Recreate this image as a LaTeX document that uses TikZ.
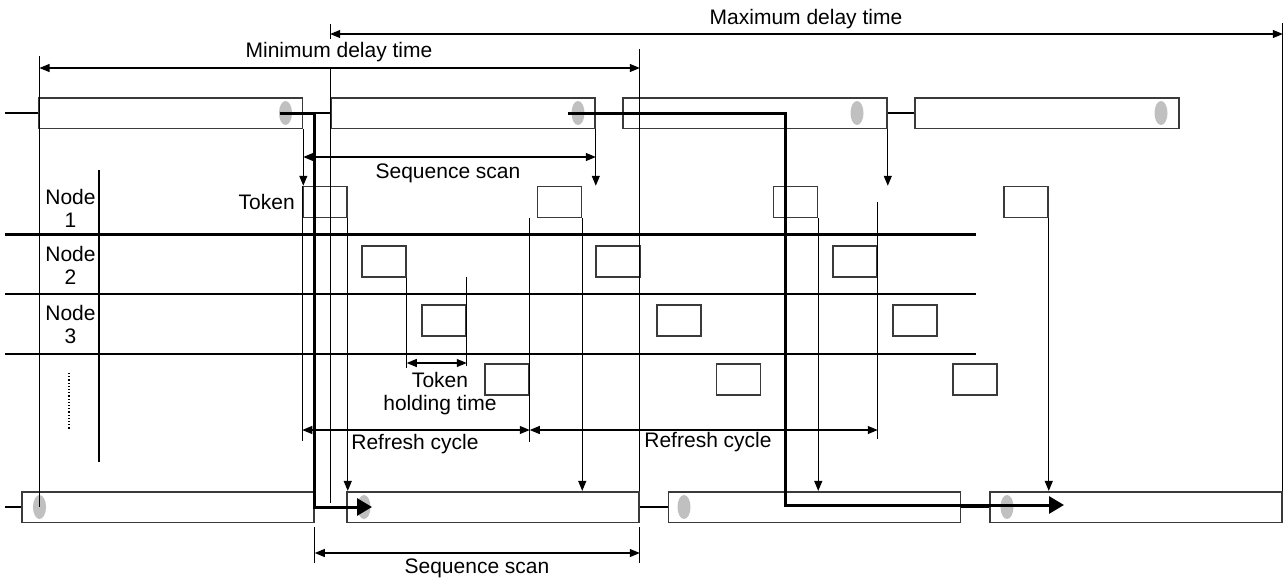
\documentclass[tikz,border=0pt]{standalone}
\usepackage{fontspec}
\setmainfont{Liberation Sans}
\usepackage{tikz}
\usetikzlibrary{arrows.meta,shapes.geometric}
\definecolor{busGris}{HTML}{3A3A3A}
\definecolor{ovaloGris}{HTML}{C0C0C0}

\begin{document}
\begin{tikzpicture}[x=0.5pt, y=-0.5pt, line width=0.55pt,
        bar/.style={draw=busGris, line width=0.8pt, fill=white, minimum height=15.3pt, inner sep=0pt},
        topbar/.style={bar, minimum width=132pt},
        botbar/.style={bar, minimum width=146pt},
        oval/.style={ellipse, fill=ovaloGris, minimum width=6.5pt, minimum height=12pt, inner sep=0pt},
        tok/.style={draw=busGris, line width=0.75pt, minimum width=22pt, minimum height=15.5pt, inner sep=0pt},
        lbl/.style={font=\fontsize{10.5}{11.5}\selectfont, inner sep=1pt, align=center},
        link/.style={line width=1.2pt},
        row/.style={line width=1.2pt},
        flow/.style={line width=1.5pt, -{Triangle[length=7.5pt,width=8.5pt]}},
        arr/.style={-{Triangle[length=5pt,width=4pt]}},
        dim/.style={{Triangle[length=5pt,width=4pt]}-{Triangle[length=5pt,width=4pt]}}
    ]
    \useasboundingbox (0,0) rectangle (1284,579);

    % Bus superior
    \node[topbar] (tb1) at (170.5,113) {};
    \node[topbar] (tb2) at (463,113) {};
    \node[topbar] (tb3) at (755,113) {};
    \node[topbar] (tb4) at (1047,113) {};

    % Bus inferior
    \node[botbar] (bb1) at (168,507) {};
    \node[botbar] (bb2) at (493,507) {};
    \node[botbar] (bb3) at (814.5,507) {};
    \node[botbar] (bb4) at (1136,507) {};

    % Marcas grises
    \node[oval] (e1) at (285.5,113) {};
    \node[oval] (e2) at (578,113) {};
    \node[oval] (e3) at (857,113) {};
    \node[oval] (e4) at (1161,113) {};
    \node[oval] (eb1) at (39.5,507) {};
    \node[oval] (eb2) at (364,507) {};
    \node[oval] (eb3) at (684,507) {};
    \node[oval] (eb4) at (1007,507) {};

    % Tokens por nodo
    \node[tok] (tok11) at (325,202) {};
    \node[tok] (tok12) at (559.5,202) {};
    \node[tok] (tok13) at (795.5,202) {};
    \node[tok] (tok14) at (1026,202) {};
    \node[tok] (tok21) at (384,261.5) {};
    \node[tok] (tok22) at (618,261.5) {};
    \node[tok] (tok23) at (855,261.5) {};
    \node[tok] (tok31) at (444,320.5) {};
    \node[tok] (tok32) at (679,320.5) {};
    \node[tok] (tok33) at (915,320.5) {};
    \node[tok] (tok41) at (507,379.5) {};
    \node[tok] (tok42) at (738.5,379.5) {};
    \node[tok] (tok43) at (975,379.5) {};

    % Etiquetas
    \node[lbl] (maxlbl) at (806,19) {Maximum delay time};
    \node[lbl] (minlbl) at (339,52) {Minimum delay time};
    \node[lbl] (seqlbl) at (448,173) {Sequence scan};
    \node[lbl] (seqlbl2) at (477,568) {Sequence scan};
    \node[lbl, anchor=east] (toklbl) at ([xshift=-2.5pt]tok11.west) {Token};
    \node[lbl] (holdlbl) at (440,393.5) {Token\\holding time};
    \node[lbl] (rclbl1) at (415,444) {Refresh cycle};
    \node[lbl] (rclbl2) at (708,442) {Refresh cycle};
    \node[lbl] (n1) at (70.5,208.5) {Node\\1};
    \node[lbl] (n2) at (70.5,265) {Node\\2};
    \node[lbl] (n3) at (70.5,324.5) {Node\\3};

    % Lineas de nodos
    \draw[row] (5,234.3) -- (976,234.3);
    \draw[row] (5,293.7) -- (976,293.7);
    \draw[row] (5,353.7) -- (976,353.7);
    \draw[row] (99,170) -- (99,462);
    \draw[densely dotted, line width=0.6pt] (69,373) -- (69,429);

    % Enlaces del bus
    \coordinate (busT) at (5,113);
    \coordinate (busB) at (5,507);
    \draw[link] (busT) -- (tb1.west);
    \draw[link] (tb1.east) -- (tb2.west);
    \draw[link] (tb2.east) -- (tb3.west);
    \draw[link] (tb3.east) -- (tb4.west);
    \draw[link] (busB) -- (bb1.west);
    \draw[link] (bb1.east) -- (bb2.west);
    \draw[link] (bb2.east) -- (bb3.west);
    \draw[link] (bb3.east) -- (bb4.west);

    % Retardo maximo y minimo
    \draw[dim] (tb2.north west |- 0,34) -- (bb4.north east |- 0,34);
    \draw (tb2.north west |- 0,24) -- ++(0,15);
    \draw (tb2.north west |- 0,67) -- (tb2.north west |- 0,503);
    \draw (bb4.north east |- 0,23) -- (bb4.north east);
    \draw[dim] (eb1.center |- 0,68) -- (bb2.north east |- 0,68);
    \draw (eb1.center |- 0,56) -- (eb1.center);
    \draw (bb2.north east |- 0,49) -- (bb2.north east);

    % Barrido de secuencia (arriba)
    \draw[dim] (tb1.south east |- 0,157) -- (tb2.south east |- 0,157);
    \draw[arr] (tb1.south east) -- (tb1.south east |- tok11.north);
    \draw[arr] (tb2.south east) -- (tb2.south east |- tok12.north);
    \draw[arr] (tb3.south east) -- (tb3.south east |- tok13.north);

    % Tokens -> bus inferior
    \draw[arr] (tok11.south east) -- (tok11.south east |- bb2.north);
    \draw[arr] (tok12.south east) -- (tok12.south east |- bb2.north);
    \draw[arr] (tok13.south east) -- (tok13.south east |- bb3.north);
    \draw[arr] (tok14.south east) -- (tok14.south east |- bb4.north);

    % Tiempo de retencion del token
    \draw (tok21.south east) -- ++(0,90);
    \draw ([yshift=13.5pt]tok31.north east) -- ++(0,89);
    \draw[dim] (tok21.south east |- 0,363) -- (tok31.east |- 0,363);

    % Ciclo de refresco
    \draw (tok11.north west) -- ++(0,255);
    \draw (tok41.east |- tok12.south) -- ++(0,224);
    \draw (tok23.east |- tok14.center) -- ++(0,237);
    \draw[dim] (tok11.west |- 0,430) -- (tok41.east |- 0,430);
    \draw[dim] (tok41.east |- 0,430) -- (tok23.east |- 0,430);

    % Barrido de secuencia (abajo)
    \draw ([yshift=-2pt]bb1.south east) -- ++(0,36);
    \draw ([yshift=-2pt]bb2.south east) -- ++(0,36);
    \draw[dim] (bb1.south east |- 0,553) -- (bb2.south east |- 0,553);

    % Recorrido del token
    \coordinate (bajada) at (785,505);
    \draw[flow] ([xshift=-3pt]e1.center) -| (bb1.east) -- ([xshift=4pt]eb2.center);
    \draw[flow] ([xshift=-5pt]e2.center) -| (bajada) -- ([xshift=28.5pt]eb4.center |- bajada);

    \end{tikzpicture}
\end{document}
